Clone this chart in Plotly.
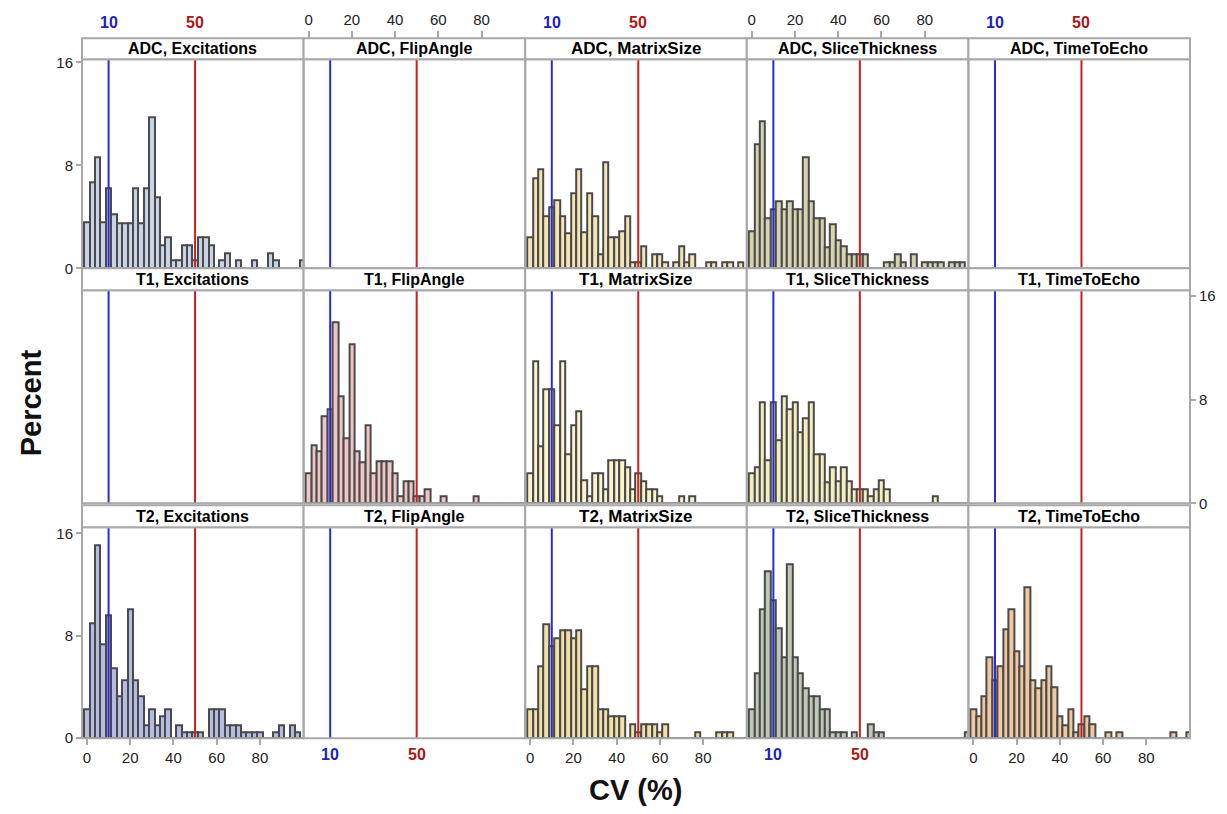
import plotly.graph_objects as go

# ---------------- data ----------------
bin_width = 2.5
centers = [k * 2.5 for k in range(41)]

rows = ["ADC", "T1", "T2"]
cols = ["Excitations", "FlipAngle", "MatrixSize", "SliceThickness", "TimeToEcho"]

adc_exc = [3.6, 6.7, 8.6, 3.6, 6.2, 4.2, 3.5, 3.5, 3.5, 6.2, 3.5, 6.2, 11.7, 5.5, 1.8, 2.4, 0.6, 0.6, 1.8, 1.8,
           0.6, 2.4, 2.4, 1.8, 0, 0.6, 1.2, 0, 0.6, 0, 0, 0.6, 0, 0, 1.2, 0.6, 0, 0, 0, 0, 0.6]
adc_mat = [2.4, 7.0, 7.7, 4.0, 4.7, 5.3, 4.0, 2.7, 5.8, 7.7, 2.8, 5.8, 4.0, 1.1, 8.2, 2.4, 2.4, 2.9, 4.0, 0.5,
           0.5, 1.7, 0, 1.1, 1.1, 0.5, 0, 0.5, 1.7, 0.5, 1.1, 0, 0, 0.5, 0.5, 0, 0.5, 0.5, 0, 0.5, 0]
adc_sl = [2.9, 9.6, 11.4, 3.9, 4.6, 5.2, 4.6, 5.2, 4.6, 4.6, 8.6, 5.2, 3.9, 3.9, 1.6, 3.4, 2.2, 1.7, 1.1, 1.1,
          1.1, 1.1, 0, 0, 0, 0.5, 0.5, 1.1, 0.5, 0, 1.1, 0, 0.5, 0.5, 0.5, 0.5, 0, 0.5, 0.5, 0.5, 0]
t1_flip = [2.3, 4.5, 4.0, 6.75, 7.3, 14.0, 8.3, 5.0, 12.3, 4.0, 3.2, 6.0, 2.3, 3.25, 3.25, 3.25, 2.3, 0.5, 1.7, 1.7,
           0.57, 0.57, 1.1, 0, 0, 0.57, 0, 0, 0, 0, 0, 0.57, 0, 0, 0, 0, 0, 0, 0, 0, 0]
t1_mat = [2.3, 11.0, 4.4, 8.8, 8.8, 6.0, 11.0, 3.8, 6.0, 7.1, 1.8, 0.57, 2.3, 2.3, 1.1, 3.3, 3.3, 3.3, 2.8, 1.1,
          2.3, 1.7, 1.1, 1.1, 0.57, 0, 0, 0, 0.57, 0, 0.57, 0, 0, 0, 0, 0, 0, 0, 0, 0, 0]
t1_sl = [2.3, 2.8, 7.8, 3.3, 7.8, 4.9, 8.3, 7.3, 7.8, 5.5, 6.6, 7.8, 3.8, 3.8, 1.65, 2.8, 1.7, 2.8, 1.7, 1.1,
         1.1, 1.1, 0.57, 1.1, 1.8, 1.1, 0, 0, 0, 0, 0, 0, 0, 0, 0.57, 0, 0, 0, 0, 0, 0]
t2_exc = [2.3, 9.0, 15.1, 7.3, 9.6, 5.5, 3.3, 4.5, 10.1, 4.5, 3.3, 1.0, 2.3, 1.0, 1.75, 2.3, 0, 1.0, 0.45, 0.45,
          0.45, 0.45, 0, 2.3, 2.3, 2.3, 1.0, 1.0, 1.0, 0.45, 0.45, 0.45, 0.45, 0, 0, 0.45, 1.0, 0, 1.0, 0.45, 0]
t2_mat = [2.3, 2.3, 5.6, 8.9, 7.2, 7.8, 8.4, 8.4, 7.8, 8.4, 3.8, 5.6, 5.6, 2.3, 2.3, 1.75, 1.75, 1.75, 0, 1.07,
          0.45, 1.07, 1.07, 1.07, 0.45, 1.07, 0, 0, 0, 0, 0, 0.5, 0, 0, 0, 0.5, 0.5, 0.5, 0, 0, 0]
t2_sl = [2.3, 5.05, 10.1, 13.05, 10.8, 8.6, 6.3, 13.6, 6.3, 5.05, 3.9, 3.3, 3.3, 2.3, 2.3, 0.45, 0.45, 0.45, 0, 0.45,
         0, 0, 1.07, 0.45, 0.45, 0, 0, 0, 0, 0, 0, 0, 0, 0, 0, 0, 0, 0, 0, 0, 0.45]
t2_te = [2.3, 1.75, 3.3, 6.3, 4.5, 5.6, 8.5, 10.1, 6.8, 5.6, 11.8, 4.5, 3.9, 4.5, 5.6, 4.0, 1.75, 1.0, 2.3, 0.45,
         1.07, 1.75, 1.07, 0, 0, 0.5, 0, 0.5, 0, 0, 0, 0, 0, 0, 0, 0, 0, 0.5, 0, 0, 0.5]

series = {
    (0, 0): (adc_exc, "#c8d4e6"),
    (0, 2): (adc_mat, "#f4e6b4"),
    (0, 3): (adc_sl, "#d6d3b0"),
    (1, 1): (t1_flip, "#eec6c6"),
    (1, 2): (t1_mat, "#fcf3cf"),
    (1, 3): (t1_sl, "#f2eec0"),
    (2, 0): (t2_exc, "#b4bce4"),
    (2, 2): (t2_mat, "#f2e0a6"),
    (2, 3): (t2_sl, "#c0c9b8"),
    (2, 4): (t2_te, "#f0c8a0"),
}

ref_lines = [10, 50]
xticks = [0, 20, 40, 60, 80]
yticks = [0, 8, 16]

# ---------------- layout geometry (pixels) ----------------
W, H = 1227, 814
col_left, col_w = 82, 221.6


def Y(t):
    # vertical pixel position in the page for a target position
    return (t - 5.65) / 0.983


plot_px = [(Y(59), Y(268)), (Y(290), Y(503)), (Y(527), Y(738))]
head_px = [(Y(38), Y(59)), (Y(268), Y(290)), (Y(505), Y(527))]
ytop = [16.23, 16.46, 16.47]
xr = [-2.3, 100.2]


def px(x):
    return x / W


def py(y):
    return 1 - y / H


BORDER = "#a8a8a8"
NARROW = "Liberation Sans Narrow, Arial Narrow, Liberation Sans, Arial"
TICKFONT = dict(family=NARROW, size=15, color="#222")
fig = go.Figure()
layout = dict(width=W, height=H, margin=dict(l=0, r=0, t=0, b=0),
              paper_bgcolor="white", plot_bgcolor="white", showlegend=False, bargap=0)
shapes, annotations = [], []

for r in range(3):
    for c in range(5):
        n = r * 5 + c + 1
        xa, ya = ("xaxis" if n == 1 else f"xaxis{n}"), ("yaxis" if n == 1 else f"yaxis{n}")
        xref, yref = ("x" if n == 1 else f"x{n}"), ("y" if n == 1 else f"y{n}")
        x0, x1 = col_left + col_w * c, col_left + col_w * (c + 1)
        yt, yb = plot_px[r]
        xd = dict(domain=[px(x0), px(x1)], range=xr, anchor=yref, showgrid=False,
                  zeroline=False, showline=False, showticklabels=False, ticks="",
                  fixedrange=True)
        yd = dict(domain=[py(yb), py(yt)], range=[0, ytop[r]], anchor=xref, showgrid=False,
                  zeroline=False, showline=False, showticklabels=False, ticks="",
                  fixedrange=True)
        if r == 2 and c in (0, 2, 4):
            xd.update(showticklabels=True, ticks="outside", tickvals=xticks, ticklen=6,
                      tickcolor=BORDER, tickwidth=1.5, tickfont=TICKFONT)
        if r == 0 and c in (1, 3):
            xd.update(side="top", anchor="free", position=py(head_px[0][0]),
                      showticklabels=True, ticks="outside", tickvals=xticks, ticklen=7,
                      tickcolor=BORDER, tickwidth=1.5, tickfont=TICKFONT)
        if c == 0 and r in (0, 2):
            yd.update(showticklabels=True, ticks="outside", tickvals=yticks, ticklen=5,
                      tickcolor=BORDER, tickwidth=1.5, tickfont=TICKFONT)
        if c == 4 and r == 1:
            yd.update(side="right", showticklabels=True, ticks="outside", tickvals=yticks,
                      ticklen=5, tickcolor=BORDER, tickwidth=1.5, tickfont=TICKFONT)
        layout[xa] = xd
        layout[ya] = yd

        if (r, c) in series:
            vals, colr = series[(r, c)]
            fig.add_trace(go.Bar(x=centers, y=vals, width=bin_width, xaxis=xref, yaxis=yref,
                                 marker=dict(color=colr, line=dict(color="#4a4a4a", width=2)),
                                 hoverinfo="x+y"))
        else:
            fig.add_trace(go.Scatter(x=[None], y=[None], xaxis=xref, yaxis=yref,
                                     mode="markers", hoverinfo="skip"))

        for v, lc in zip(ref_lines, ["#2a2ad8", "#cc1e1e"]):
            shapes.append(dict(type="line", xref=xref, yref="paper", x0=v, x1=v,
                               y0=py(yb), y1=py(yt), line=dict(color=lc, width=2), layer="above"))
        shapes.append(dict(type="rect", xref="paper", yref="paper", x0=px(x0), x1=px(x1),
                           y0=py(yb), y1=py(yt), line=dict(color=BORDER, width=2),
                           fillcolor="rgba(0,0,0,0)", layer="above"))
        ht, hb = head_px[r]
        shapes.append(dict(type="rect", xref="paper", yref="paper", x0=px(x0), x1=px(x1),
                           y0=py(hb), y1=py(ht), line=dict(color=BORDER, width=2),
                           fillcolor="white", layer="above"))
        big = (c == 2)
        annotations.append(dict(text=f"<b>{rows[r]}, {cols[c]}</b>", xref="paper", yref="paper",
                                x=px((x0 + x1) / 2), y=py((ht + hb) / 2), showarrow=False,
                                xanchor="center", yanchor="middle",
                                font=dict(family="Liberation Sans, Arial" if big else NARROW,
                                          size=17 if big else 16, color="#000")))
        if r == 0 and c in (0, 2, 4):
            for v, lc in zip(ref_lines, ["#1c1cc8", "#b01414"]):
                annotations.append(dict(text=f"<b>{v}</b>", xref=xref, yref="paper", x=v,
                                        y=py(Y(22)), showarrow=False, xanchor="center",
                                        yanchor="middle",
                                        font=dict(family=NARROW, size=16, color=lc)))
        if r == 2 and c in (1, 3):
            for v, lc in zip(ref_lines, ["#1c1cc8", "#b01414"]):
                annotations.append(dict(text=f"<b>{v}</b>", xref=xref, yref="paper", x=v,
                                        y=py(Y(754)), showarrow=False, xanchor="center",
                                        yanchor="middle",
                                        font=dict(family=NARROW, size=16, color=lc)))

annotations.append(dict(text="<b>Percent</b>", xref="paper", yref="paper", x=px(31), y=py(Y(402)),
                        showarrow=False, textangle=-90, xanchor="center", yanchor="middle",
                        font=dict(family="Liberation Sans, Arial", size=29, color="#111")))
annotations.append(dict(text="<b>CV (%)</b>", xref="paper", yref="paper", x=px(636), y=py(798),
                        showarrow=False, xanchor="center", yanchor="middle",
                        font=dict(family="Liberation Sans, Arial", size=29, color="#111")))

layout["shapes"] = shapes
layout["annotations"] = annotations
fig.update_layout(**layout)
fig.write_html("out.html", config={"displayModeBar": False},
               post_script="document.body.style.margin='0px';document.body.style.padding='0px';"
                           "document.body.style.overflow='hidden';")
